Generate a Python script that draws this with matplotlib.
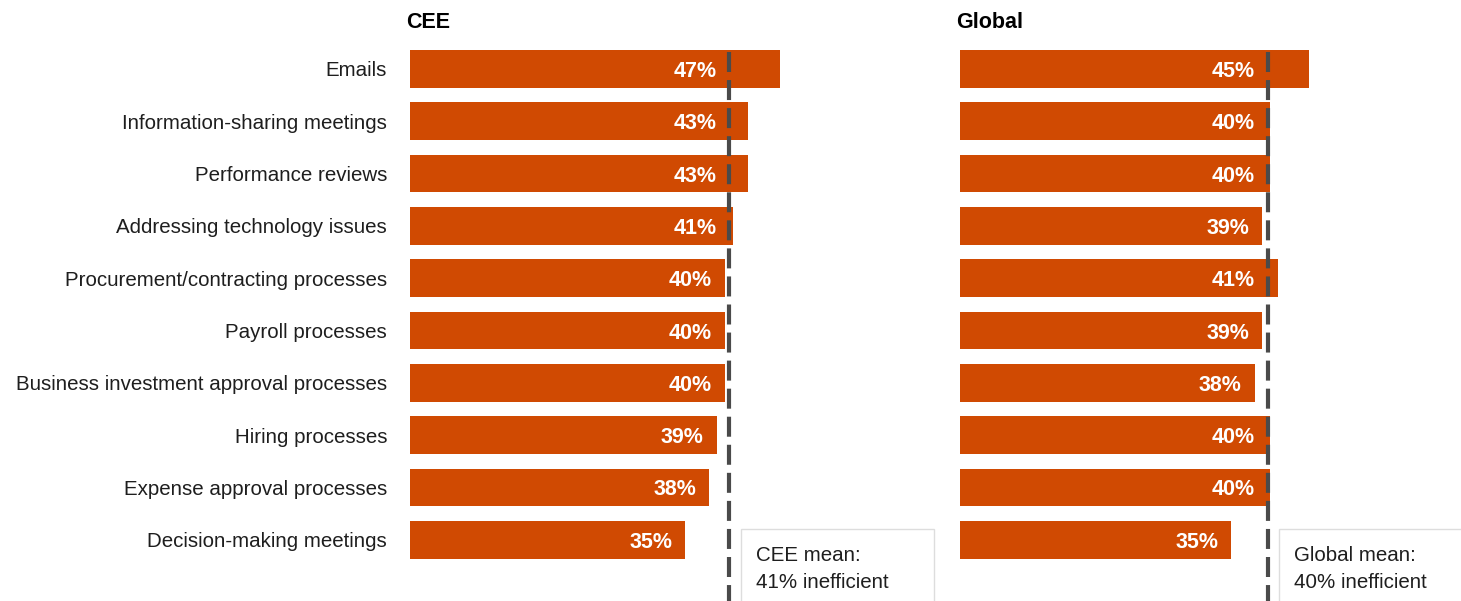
import matplotlib
matplotlib.use("Agg")
import matplotlib.pyplot as plt
from matplotlib.patches import Rectangle
from matplotlib.transforms import offset_copy

plt.rcParams['font.family'] = ['Liberation Sans', 'DejaVu Sans']
plt.rcParams['lines.scale_dashes'] = False

categories = [
    "Emails",
    "Information-sharing meetings",
    "Performance reviews",
    "Addressing technology issues",
    "Procurement/contracting processes",
    "Payroll processes",
    "Business investment approval processes",
    "Hiring processes",
    "Expense approval processes",
    "Decision-making meetings",
]
cee_values = [47, 43, 43, 41, 40, 40, 40, 39, 38, 35]
global_values = [45, 40, 40, 39, 41, 39, 38, 40, 40, 35]
panel_titles = ["CEE", "Global"]
mean_labels = ["CEE mean:\n41% inefficient", "Global mean:\n40% inefficient"]

BAR_COLOR = "#D04A02"
LINE_COLOR = "#4a4a4a"
TEXT_COLOR = "#1e1e1e"

fig = plt.figure(figsize=(14.61, 6.01), dpi=100)
W, H = 1461, 601

# axes placement (pixels): left edge, width
panels = [(410, 472), (960, 465)]
ymin_data, ymax_data = -1.319, 10.17

for idx, (values, (x0, w)) in enumerate(zip([cee_values, global_values], panels)):
    ax = fig.add_axes([x0 / W, 0, w / W, 1])
    ax.set_xlim(0, 60)
    ax.set_ylim(ymax_data, ymin_data)
    for s in ax.spines.values():
        s.set_visible(False)
    ax.set_xticks([])
    ypos = list(range(len(categories)))
    ax.barh(ypos, values, height=0.72, color=BAR_COLOR, zorder=2)

    if idx == 0:
        ax.set_yticks(ypos)
        ax.set_yticklabels(categories, fontsize=14.8, color=TEXT_COLOR)
        ax.tick_params(axis='y', length=0, pad=16.5)
    else:
        ax.set_yticks([])

    mean = sum(values) / len(values)
    ax.plot([mean, mean], [-0.33, ymax_data], color=LINE_COLOR, lw=3,
            dashes=(14.4, 5.8), zorder=3, clip_on=False)

    for y, v in zip(ypos, values):
        xr = min(v, mean)
        tr = offset_copy(ax.transData, fig=fig, x=-13, y=0, units='dots')
        ax.text(xr, y, f"{v}%", color="white", fontsize=15.5, fontweight='bold',
                ha='right', va='center_baseline', transform=tr, zorder=4)

    # title
    ttr = offset_copy(ax.transData, fig=fig, x=-4, y=0, units='dots')
    ax.text(0, -0.78, panel_titles[idx], fontsize=15.5, fontweight='bold',
            color='black', ha='left', va='baseline', transform=ttr)

    # mean annotation box
    bx = mean + 1.45
    box = Rectangle((bx, 8.8), 24.5, 3, facecolor='white', edgecolor='#dddddd',
                    lw=1.0, zorder=1, clip_on=False)
    ax.add_patch(box)
    btr = offset_copy(ax.transData, fig=fig, x=15, y=0, units='dots')
    ax.text(bx, 9.92, mean_labels[idx], fontsize=14.8, color=TEXT_COLOR,
            ha='left', va='baseline', transform=btr, linespacing=1.5,
            zorder=2)

fig.savefig("out.png", dpi=100, facecolor='white')
